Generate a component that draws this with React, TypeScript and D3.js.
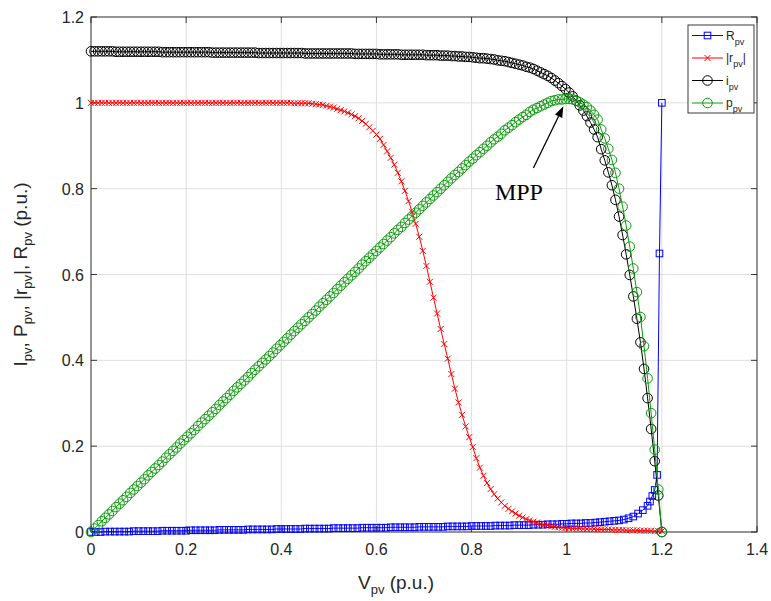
import React from "react";
import * as d3 from "d3";

// ---------- data ----------
// voltage grid of the i_pv, p_pv and |r_pv| curves (p.u.)
const vpv = [
  0,0.0075,0.015,0.0225,0.03,0.0375,0.045,0.0525,0.06,0.0675,
  0.075,0.0825,0.09,0.0975,0.105,0.1125,0.12,0.1275,0.135,0.1425,
  0.15,0.1575,0.165,0.1725,0.18,0.1875,0.195,0.2025,0.21,0.2175,
  0.225,0.2325,0.24,0.2475,0.255,0.2625,0.27,0.2775,0.285,0.2925,
  0.3,0.3075,0.315,0.3225,0.33,0.3375,0.345,0.3525,0.36,0.3675,
  0.375,0.3825,0.39,0.3975,0.405,0.4125,0.42,0.4275,0.435,0.4425,
  0.45,0.4575,0.465,0.4725,0.48,0.4875,0.495,0.5025,0.51,0.5175,
  0.525,0.5325,0.54,0.5475,0.555,0.5625,0.57,0.5775,0.585,0.5925,
  0.6,0.6075,0.615,0.6225,0.63,0.6375,0.645,0.6525,0.66,0.6675,
  0.675,0.6825,0.69,0.6975,0.705,0.7125,0.72,0.7275,0.735,0.7425,
  0.75,0.7575,0.765,0.7725,0.78,0.7875,0.795,0.8025,0.81,0.8175,
  0.825,0.8325,0.84,0.8475,0.855,0.8625,0.87,0.8775,0.885,0.8925,
  0.9,0.9075,0.915,0.9225,0.93,0.9375,0.945,0.9525,0.96,0.9675,
  0.975,0.9825,0.99,0.9975,1.005,1.0125,1.02,1.0275,1.035,1.0425,
  1.05,1.0575,1.065,1.0725,1.08,1.0875,1.095,1.1025,1.11,1.1175,
  1.125,1.1325,1.14,1.1475,1.155,1.1625,1.17,1.1775,1.185,1.1925,
  1.2,
];

const ipv = [
  1.12,1.12,1.12,1.12,1.12,1.12,1.12,1.119,1.119,1.119,
  1.119,1.119,1.119,1.119,1.119,1.119,1.119,1.119,1.119,1.119,
  1.118,1.118,1.118,1.118,1.118,1.118,1.118,1.118,1.118,1.118,
  1.118,1.118,1.118,1.118,1.117,1.117,1.117,1.117,1.117,1.117,
  1.117,1.117,1.117,1.117,1.117,1.117,1.117,1.116,1.116,1.116,
  1.116,1.116,1.116,1.116,1.116,1.116,1.116,1.116,1.116,1.116,
  1.115,1.115,1.115,1.115,1.115,1.115,1.115,1.115,1.115,1.115,
  1.115,1.115,1.115,1.115,1.114,1.114,1.114,1.114,1.114,1.114,
  1.114,1.113,1.113,1.113,1.113,1.113,1.113,1.112,1.112,1.112,
  1.112,1.112,1.112,1.112,1.111,1.111,1.111,1.111,1.11,1.11,
  1.11,1.109,1.109,1.108,1.108,1.107,1.107,1.106,1.105,1.104,
  1.104,1.103,1.102,1.101,1.099,1.098,1.097,1.095,1.093,1.091,
  1.089,1.087,1.084,1.082,1.079,1.075,1.071,1.067,1.063,1.058,
  1.052,1.046,1.039,1.032,1.024,1.015,1.005,0.994,0.982,0.969,
  0.954,0.938,0.92,0.892,0.866,0.838,0.808,0.774,0.735,0.692,
  0.647,0.599,0.549,0.497,0.442,0.38,0.312,0.24,0.165,0.085,
  0,
];

const ppv = [
  0,0.008,0.016,0.025,0.033,0.041,0.049,0.058,0.066,0.074,
  0.082,0.091,0.099,0.107,0.115,0.123,0.132,0.14,0.148,0.156,
  0.164,0.173,0.181,0.189,0.197,0.206,0.214,0.222,0.23,0.238,
  0.247,0.255,0.263,0.271,0.279,0.287,0.296,0.304,0.312,0.32,
  0.329,0.337,0.345,0.353,0.361,0.37,0.378,0.386,0.394,0.402,
  0.41,0.418,0.427,0.435,0.443,0.451,0.46,0.468,0.476,0.484,
  0.492,0.5,0.508,0.516,0.525,0.533,0.541,0.549,0.557,0.566,
  0.574,0.582,0.59,0.598,0.606,0.614,0.623,0.631,0.639,0.647,
  0.655,0.663,0.671,0.679,0.687,0.696,0.704,0.711,0.72,0.728,
  0.736,0.744,0.752,0.76,0.768,0.776,0.784,0.792,0.8,0.808,
  0.816,0.824,0.832,0.839,0.847,0.855,0.863,0.87,0.878,0.885,
  0.893,0.9,0.908,0.915,0.921,0.928,0.936,0.942,0.948,0.955,
  0.961,0.967,0.972,0.979,0.984,0.988,0.992,0.996,1.0,1.004,
  1.006,1.008,1.008,1.009,1.009,1.008,1.005,1.001,0.996,0.99,
  0.982,0.972,0.961,0.938,0.917,0.893,0.867,0.837,0.8,0.758,
  0.714,0.665,0.614,0.559,0.501,0.433,0.358,0.277,0.192,0.099,
  0,
];

const rpvAbs = [
  1,1,1,1,1,1,1,1,1,1,
  1,1,1,1,1,1,1,1,1,1,
  1,1,1,1,1,1,1,1,1,1,
  1,1,1,1,1,1,1,1,1,1,
  1,1,1,1,1,1,1,1,1,1,
  1,1,1,1,1,1,1,0.999,0.999,0.999,
  0.999,0.999,0.998,0.997,0.996,0.995,0.993,0.991,0.989,0.986,
  0.983,0.98,0.977,0.973,0.969,0.964,0.958,0.951,0.943,0.935,
  0.926,0.916,0.902,0.887,0.872,0.856,0.837,0.817,0.795,0.771,
  0.746,0.718,0.688,0.655,0.62,0.583,0.546,0.509,0.473,0.438,
  0.404,0.368,0.334,0.302,0.273,0.246,0.221,0.198,0.172,0.15,
  0.131,0.114,0.1,0.088,0.078,0.069,0.061,0.054,0.048,0.043,
  0.038,0.034,0.03,0.027,0.024,0.022,0.019,0.017,0.015,0.013,
  0.012,0.011,0.01,0.009,0.009,0.008,0.008,0.008,0.007,0.007,
  0.007,0.007,0.006,0.006,0.006,0.006,0.005,0.005,0.005,0.005,
  0.004,0.004,0.004,0.004,0.003,0.003,0.003,0.003,0.002,0.002,
  0.002,
];

// voltage grid of the R_pv curve (p.u.)
const vR = [
  0,0.01,0.02,0.03,0.04,0.05,0.06,0.07,0.08,0.09,
  0.1,0.11,0.12,0.13,0.14,0.15,0.16,0.17,0.18,0.19,
  0.2,0.21,0.22,0.23,0.24,0.25,0.26,0.27,0.28,0.29,
  0.3,0.31,0.32,0.33,0.34,0.35,0.36,0.37,0.38,0.39,
  0.4,0.41,0.42,0.43,0.44,0.45,0.46,0.47,0.48,0.49,
  0.5,0.51,0.52,0.53,0.54,0.55,0.56,0.57,0.58,0.59,
  0.6,0.61,0.62,0.63,0.64,0.65,0.66,0.67,0.68,0.69,
  0.7,0.71,0.72,0.73,0.74,0.75,0.76,0.77,0.78,0.79,
  0.8,0.81,0.82,0.83,0.84,0.85,0.86,0.87,0.88,0.89,
  0.9,0.91,0.92,0.93,0.94,0.95,0.96,0.97,0.98,0.99,
  1.0,1.01,1.02,1.03,1.04,1.05,1.06,1.07,1.08,1.09,
  1.1,1.11,1.12,1.13,1.14,1.15,1.16,1.17,
  1.175,1.18,1.185,1.19,1.195,1.2,
];

const rpv = [
  0,0,0,0.001,0.001,0.001,0.001,0.001,0.001,0.002,
  0.002,0.002,0.002,0.002,0.002,0.003,0.003,0.003,0.003,0.003,
  0.003,0.004,0.004,0.004,0.004,0.004,0.004,0.005,0.005,0.005,
  0.005,0.005,0.005,0.006,0.006,0.006,0.006,0.006,0.006,0.007,
  0.007,0.007,0.007,0.007,0.007,0.008,0.008,0.008,0.008,0.008,
  0.008,0.009,0.009,0.009,0.009,0.009,0.009,0.01,0.01,0.01,
  0.01,0.01,0.01,0.011,0.011,0.011,0.011,0.011,0.011,0.012,
  0.012,0.012,0.012,0.012,0.012,0.013,0.013,0.013,0.013,0.013,
  0.014,0.014,0.014,0.014,0.014,0.015,0.015,0.015,0.015,0.016,
  0.016,0.016,0.016,0.017,0.017,0.017,0.018,0.018,0.018,0.019,
  0.019,0.02,0.02,0.02,0.021,0.021,0.022,0.023,0.024,0.025,
  0.026,0.027,0.029,0.032,0.036,0.043,0.051,0.061,
  0.071,0.084,0.098,0.133,0.649,1.0,
];

const xTicks = [0, 0.2, 0.4, 0.6, 0.8, 1, 1.2, 1.4];
const xTickLabels = ["0", "0.2", "0.4", "0.6", "0.8", "1", "1.2", "1.4"];
const yTicks = [0, 0.2, 0.4, 0.6, 0.8, 1, 1.2];
const yTickLabels = ["0", "0.2", "0.4", "0.6", "0.8", "1", "1.2"];

// MPP annotation (data units): text anchor, arrow tail, arrow tip
const mppText = { v: 0.849, p: 0.774, label: "MPP" };
const mppTail = { v: 0.93, p: 0.848 };
const mppTip = { v: 0.993, p: 0.992 };

// ---------- style ----------
const FONT = "'Liberation Sans', Arial, Helvetica, sans-serif";
const SERIF = "'Liberation Serif', 'Times New Roman', Times, serif";
const AX = "#262626";
const GRID = "#dfdfdf";
const BLUE = "#0000ff";
const RED = "#ff0000";
const BLACK = "#000000";
const GREEN = "#0a9a0a";

type MarkerKind = "square" | "x" | "circle";

function Marker({ kind, cx, cy, color }: { kind: MarkerKind; cx: number; cy: number; color: string }) {
  if (kind === "square") {
    return <rect x={cx - 3.3} y={cy - 3.3} width={6.6} height={6.6} fill="none" stroke={color} strokeWidth={1} />;
  }
  if (kind === "x") {
    const s = 3;
    return (
      <g stroke={color} strokeWidth={1}>
        <line x1={cx - s} y1={cy - s} x2={cx + s} y2={cy + s} />
        <line x1={cx - s} y1={cy + s} x2={cx + s} y2={cy - s} />
      </g>
    );
  }
  return <circle cx={cx} cy={cy} r={4.8} fill="none" stroke={color} strokeWidth={1} />;
}

export default function App() {
  const x = d3.scaleLinear().domain([0, 1.4]).range([91, 757]);
  const y = d3.scaleLinear().domain([0, 1.2]).range([532, 17]);
  const [x0, x1] = x.range();
  const [y0, y1] = y.range();

  const line = d3
    .line<[number, number]>()
    .x((d) => x(d[0]))
    .y((d) => y(d[1]));

  const series = [
    { name: "R", xs: vR, ys: rpv, color: BLUE, kind: "square" as MarkerKind },
    { name: "r", xs: vpv, ys: rpvAbs, color: RED, kind: "x" as MarkerKind },
    { name: "i", xs: vpv, ys: ipv, color: BLACK, kind: "circle" as MarkerKind },
    { name: "p", xs: vpv, ys: ppv, color: GREEN, kind: "circle" as MarkerKind },
  ];

  // arrow geometry
  const ax1 = x(mppTail.v), ay1 = y(mppTail.p), ax2 = x(mppTip.v), ay2 = y(mppTip.p);
  const ang = Math.atan2(ay2 - ay1, ax2 - ax1);
  const hl = 11, hw = 4;
  const bx = ax2 - hl * Math.cos(ang), by = ay2 - hl * Math.sin(ang);
  const head = [
    [ax2, ay2],
    [bx + hw * Math.sin(ang), by - hw * Math.cos(ang)],
    [bx - hw * Math.sin(ang), by + hw * Math.cos(ang)],
  ]
    .map((p) => p.join(","))
    .join(" ");

  const legendItems = [
    { color: BLUE, kind: "square" as MarkerKind, pre: "R", post: "" },
    { color: RED, kind: "x" as MarkerKind, pre: "|r", post: "|" },
    { color: BLACK, kind: "circle" as MarkerKind, pre: "i", post: "" },
    { color: GREEN, kind: "circle" as MarkerKind, pre: "p", post: "" },
  ];
  const lg = { x: 688, y: 25, w: 66, h: 88 };

  return (
    <svg
      width={771}
      height={601}
      style={{ position: "absolute", left: 0, top: 0, background: "#fff" }}
      fontFamily={FONT}
    >
      <rect x={0} y={0} width={771} height={601} fill="#fff" />
      {/* grid */}
      {xTicks.map((t) => (
        <line key={"gx" + t} x1={x(t)} x2={x(t)} y1={y0} y2={y1} stroke={GRID} strokeWidth={1} />
      ))}
      {yTicks.map((t) => (
        <line key={"gy" + t} x1={x0} x2={x1} y1={y(t)} y2={y(t)} stroke={GRID} strokeWidth={1} />
      ))}
      {/* box */}
      <rect x={x0} y={y1} width={x1 - x0} height={y0 - y1} fill="none" stroke={AX} strokeWidth={0.9} />
      {/* ticks */}
      {xTicks.map((t) => (
        <g key={"tx" + t} stroke={AX} strokeWidth={0.9}>
          <line x1={x(t)} x2={x(t)} y1={y0} y2={y0 - 6} />
          <line x1={x(t)} x2={x(t)} y1={y1} y2={y1 + 6} />
        </g>
      ))}
      {yTicks.map((t) => (
        <g key={"ty" + t} stroke={AX} strokeWidth={0.9}>
          <line x1={x0} x2={x0 + 6} y1={y(t)} y2={y(t)} />
          <line x1={x1} x2={x1 - 6} y1={y(t)} y2={y(t)} />
        </g>
      ))}
      {xTicks.map((t, i) => (
        <text key={"lx" + t} x={x(t)} y={y0 + 23} textAnchor="middle" fontSize={16} fill={AX}>
          {xTickLabels[i]}
        </text>
      ))}
      {yTicks.map((t, i) => (
        <text key={"ly" + t} x={x0 - 7} y={y(t) + 6} textAnchor="end" fontSize={16} fill={AX}>
          {yTickLabels[i]}
        </text>
      ))}
      {/* axis labels */}
      <text x={396} y={589} textAnchor="middle" fontSize={19} fill={AX}>
        V<tspan fontSize={13} dy={5}>pv</tspan>
        <tspan dy={-5}> (p.u.)</tspan>
      </text>
      <text transform={`translate(27,${(y0 + y1) / 2}) rotate(-90)`} textAnchor="middle" fontSize={19} fill={AX}>
        I<tspan fontSize={13} dy={5}>pv</tspan>
        <tspan dy={-5}>, P</tspan>
        <tspan fontSize={13} dy={5}>pv</tspan>
        <tspan dy={-5}>, |r</tspan>
        <tspan fontSize={13} dy={5}>pv</tspan>
        <tspan dy={-5}>|, R</tspan>
        <tspan fontSize={13} dy={5}>pv</tspan>
        <tspan dy={-5}> (p.u.)</tspan>
      </text>
      {/* series */}
      {series.map((s) => {
        const pts = s.xs.map((v, i) => [v, s.ys[i]] as [number, number]);
        return (
          <g key={s.name}>
            <path d={line(pts) || ""} fill="none" stroke={s.color} strokeWidth={1} />
            {pts.map((p, i) => (
              <Marker key={i} kind={s.kind} cx={x(p[0])} cy={y(p[1])} color={s.color} />
            ))}
          </g>
        );
      })}
      {/* MPP annotation */}
      <line x1={ax1} y1={ay1} x2={bx} y2={by} stroke="#000" strokeWidth={1.3} />
      <polygon points={head} fill="#000" />
      <text x={x(mppText.v)} y={y(mppText.p)} fontFamily={SERIF} fontSize={24} fill="#000">
        {mppText.label}
      </text>
      {/* legend */}
      <rect x={lg.x} y={lg.y} width={lg.w} height={lg.h} fill="#fff" stroke={AX} strokeWidth={0.9} />
      {legendItems.map((it, i) => {
        const cy = lg.y + 10.5 + i * 22.5;
        return (
          <g key={"lg" + i}>
            <line x1={lg.x + 4} x2={lg.x + 35} y1={cy} y2={cy} stroke={it.color} strokeWidth={1} />
            <Marker kind={it.kind} cx={lg.x + 19.5} cy={cy} color={it.color} />
            <text x={lg.x + 38} y={cy + 4} fontSize={12} fill={AX}>
              {it.pre}
              <tspan fontSize={9} dy={5}>pv</tspan>
              {it.post ? <tspan dy={-5}>{it.post}</tspan> : null}
            </text>
          </g>
        );
      })}
    </svg>
  );
}
